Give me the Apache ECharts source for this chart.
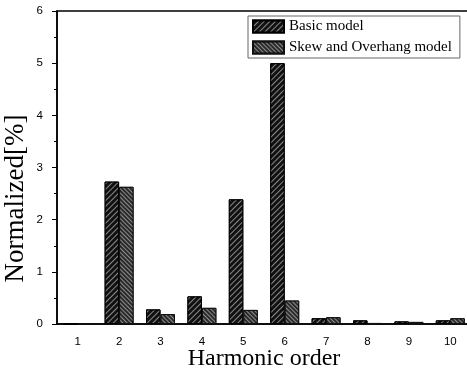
<!DOCTYPE html>
<html>
<head>
<meta charset="utf-8">
<script src="https://cdn.jsdelivr.net/npm/echarts@6/dist/echarts.min.js"></script>
<style>
  html, body { margin: 0; padding: 0; background: #fff; }
  #chart { width: 467px; height: 381px; }
</style>
</head>
<body>
<div id="chart"></div>
<script>
// harmonic orders and normalized values [%]
const harmonics = ['1', '2', '3', '4', '5', '6', '7', '8', '9', '10'];
const basicModel = [0, 2.73, 0.28, 0.53, 2.39, 5.0, 0.11, 0.07, 0.05, 0.07];
const skewModel = [0, 2.63, 0.19, 0.31, 0.27, 0.45, 0.13, 0.02, 0.04, 0.11];
const yTicks = [0, 1, 2, 3, 4, 5, 6];

const chart = echarts.init(document.getElementById('chart'));

const serif = '"Liberation Serif", "DejaVu Serif", serif';
const sans = '"Liberation Sans", Arial, sans-serif';

const option = {
  animation: false,
  backgroundColor: '#fff',
  grid: {
    left: 57, right: -4, top: 11, bottom: 57,
    outerBoundsMode: 'none',
    containLabel: false,
    show: true, borderColor: '#000', borderWidth: 1.5
  },
  legend: {
    left: 248, top: 16,
    orient: 'vertical',
    icon: 'rect',
    itemWidth: 31, itemHeight: 12, itemGap: 6,
    padding: [3, 8, 3, 4],
    borderColor: '#666', borderWidth: 1,
    textStyle: { fontFamily: serif, fontSize: 15, color: '#000' },
    data: ['Basic model', 'Skew and Overhang model']
  },
  xAxis: [
    {
      type: 'category',
      data: harmonics,
      name: 'Harmonic order',
      nameLocation: 'middle',
      nameGap: 23,
      nameMoveOverlap: false,
      nameTextStyle: { fontFamily: serif, fontSize: 24, color: '#000' },
      axisLine: { lineStyle: { color: '#000', width: 1.5 } },
      axisTick: { alignWithLabel: true, length: 5, lineStyle: { color: '#000' } },
      axisLabel: { fontFamily: sans, fontSize: 11.5, color: '#000', margin: 12 },
      splitLine: { show: false }
    },
    {
      // minor ticks between categories
      type: 'category',
      data: harmonics,
      position: 'bottom',
      axisLine: { show: false },
      axisTick: { length: 3, lineStyle: { color: '#000' } },
      axisLabel: { show: false },
      splitLine: { show: false }
    }
  ],
  yAxis: {
    type: 'value',
    min: yTicks[0], max: yTicks[yTicks.length - 1], interval: 1,
    name: 'Normalized[%]',
    nameLocation: 'middle',
    nameGap: 28,
    nameMoveOverlap: false,
    nameTextStyle: { fontFamily: serif, fontSize: 27, color: '#000', padding: [0, 62, 0, 0] },
    axisLine: { show: true, lineStyle: { color: '#000', width: 1.5 } },
    axisTick: { show: true, length: 5, lineStyle: { color: '#000' } },
    minorTick: { show: true, splitNumber: 2, length: 3, lineStyle: { color: '#000' } },
    axisLabel: { fontFamily: sans, fontSize: 11.5, color: '#000', margin: 14 },
    splitLine: { show: false }
  },
  series: [
    {
      name: 'Basic model',
      type: 'bar',
      data: basicModel,
      barGap: '0%',
      barCategoryGap: '30%',
      itemStyle: {
        color: '#111',
        borderColor: '#000',
        borderWidth: 1,
        decal: {
          symbol: 'rect',
          symbolSize: 1,
          dashArrayX: [1, 0],
          dashArrayY: [1, 2.2],
          rotation: -Math.PI / 4,
          color: 'rgba(255,255,255,0.5)'
        }
      }
    },
    {
      name: 'Skew and Overhang model',
      type: 'bar',
      data: skewModel,
      itemStyle: {
        color: '#2a2a2a',
        borderColor: '#111',
        borderWidth: 1,
        decal: {
          symbol: 'rect',
          symbolSize: 1,
          dashArrayX: [1, 0],
          dashArrayY: [1, 1.4],
          rotation: Math.PI / 4,
          color: 'rgba(220,220,220,0.55)'
        }
      }
    }
  ]
};

chart.setOption(option);
window.addEventListener('resize', () => chart.resize());
</script>
</body>
</html>
